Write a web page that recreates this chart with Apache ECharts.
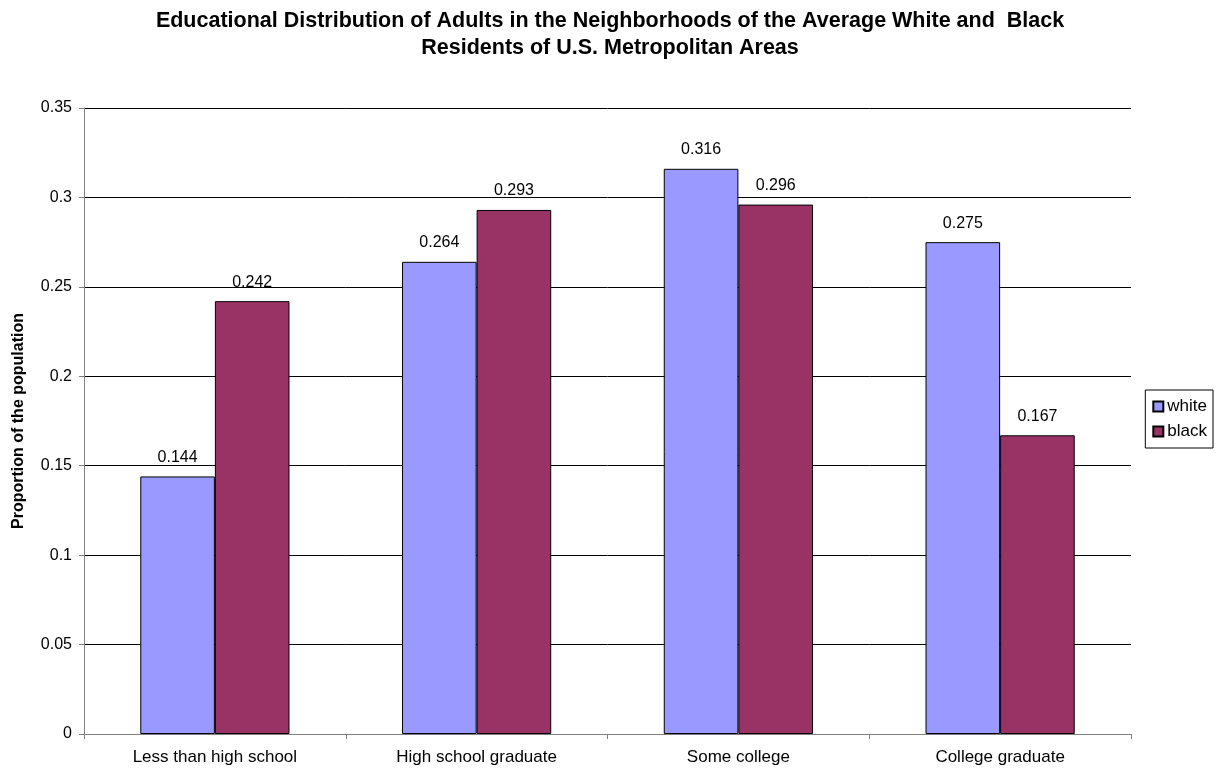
<!DOCTYPE html>
<html>
<head>
<meta charset="utf-8">
<script src="https://cdn.jsdelivr.net/npm/echarts@6/dist/echarts.min.js"></script>
<style>
  html, body { margin: 0; padding: 0; background: #fff; }
  #chart { width: 1220px; height: 772px; }
</style>
</head>
<body>
<div id="chart"></div>
<script>
// Education categories along the x axis
const categories = ['Less than high school', 'High school graduate', 'Some college', 'College graduate'];
// Share of adults in the neighborhood of the average white / black resident
const whiteValues = [0.144, 0.264, 0.316, 0.275];
const blackValues = [0.242, 0.293, 0.296, 0.167];
const seriesNames = ['white', 'black'];

const FONT = 'Liberation Sans, Arial, sans-serif';
const chart = echarts.init(document.getElementById('chart'), null, { renderer: 'canvas' });

const labelStyle = {
  show: true,
  position: 'top',
  distance: 11,
  color: '#000',
  fontFamily: FONT,
  fontSize: 16,
  formatter: p => String(p.value)
};

chart.setOption({
  animation: false,
  backgroundColor: '#fff',
  title: {
    text: 'Educational Distribution of Adults in the Neighborhoods of the Average White and  Black\nResidents of U.S. Metropolitan Areas',
    left: 'center',
    top: 3,
    textStyle: { fontFamily: FONT, fontSize: 21.5, fontWeight: 'bold', color: '#000', lineHeight: 27 }
  },
  legend: {
    orient: 'vertical',
    right: 7,
    top: 390,
    data: seriesNames,
    itemWidth: 10,
    itemHeight: 10,
    itemGap: 8,
    padding: [8, 6, 8, 7],
    borderColor: '#000',
    borderWidth: 1,
    textStyle: { fontFamily: FONT, fontSize: 17, color: '#000', lineHeight: 17, padding: [0, 0, 0, -1] },
    icon: 'rect'
  },
  grid: { left: 84, right: 89, top: 108, bottom: 38, containLabel: false },
  xAxis: {
    type: 'category',
    data: categories,
    axisLine: { lineStyle: { color: '#808080', width: 1 } },
    axisTick: { show: true, length: 5, inside: false, lineStyle: { color: '#808080' } },
    axisLabel: { color: '#000', fontFamily: FONT, fontSize: 17, margin: 15 }
  },
  yAxis: {
    type: 'value',
    min: 0,
    max: 0.35,
    interval: 0.05,
    name: 'Proportion of the population',
    nameLocation: 'middle',
    nameGap: 57,
    nameTextStyle: { fontFamily: FONT, fontSize: 16, fontWeight: 'bold', color: '#000' },
    axisLine: { show: true, lineStyle: { color: '#808080', width: 1 } },
    axisTick: { show: true, length: 5, lineStyle: { color: '#808080' } },
    axisLabel: { color: '#000', fontFamily: FONT, fontSize: 16, margin: 12,
      formatter: v => String(Math.round(v * 100) / 100) },
    splitLine: { show: true, lineStyle: { color: '#000', width: 1 } }
  },
  series: [
    {
      name: seriesNames[0],
      type: 'bar',
      data: whiteValues,
      barGap: '0%',
      barCategoryGap: '43%',
      itemStyle: { color: '#9999FF', borderColor: '#000', borderWidth: 1 },
      label: labelStyle
    },
    {
      name: seriesNames[1],
      type: 'bar',
      data: blackValues,
      itemStyle: { color: '#993366', borderColor: '#000', borderWidth: 1 },
      label: labelStyle
    }
  ]
});
</script>
</body>
</html>
